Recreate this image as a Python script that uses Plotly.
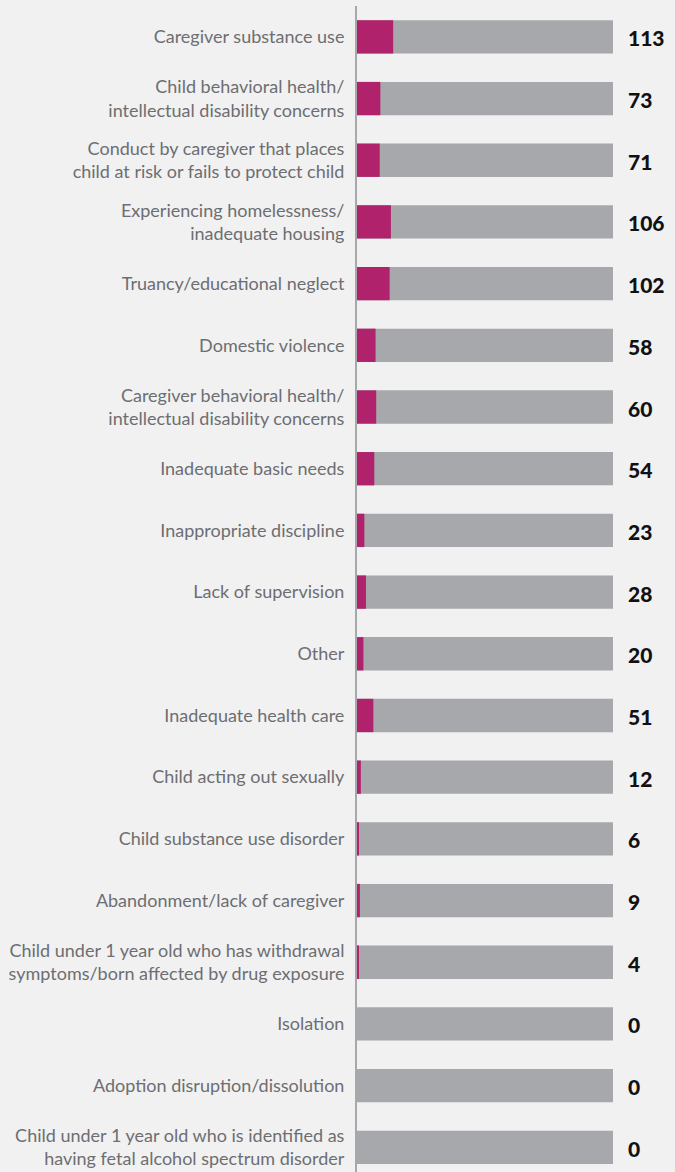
import plotly.graph_objects as go

# Reasons for removal (top to bottom as shown)
categories = [
    "Caregiver substance use",
    "Child behavioral health/<br>intellectual disability concerns",
    "Conduct by caregiver that places<br>child at risk or fails to protect child",
    "Experiencing homelessness/<br>inadequate housing",
    "Truancy/educational neglect",
    "Domestic violence",
    "Caregiver behavioral health/<br>intellectual disability concerns",
    "Inadequate basic needs",
    "Inappropriate discipline",
    "Lack of supervision",
    "Other",
    "Inadequate health care",
    "Child acting out sexually",
    "Child substance use disorder",
    "Abandonment/lack of caregiver",
    "Child under 1 year old who has withdrawal<br>symptoms/born affected by drug exposure",
    "Isolation",
    "Adoption disruption/dissolution",
    "Child under 1 year old who is identified as<br>having fetal alcohol spectrum disorder",
]
counts = [113, 73, 71, 106, 102, 58, 60, 54, 23, 28, 20, 51, 12, 6, 9, 4, 0, 0, 0]
total = 800  # full length of the grey bar

magenta = "#b0226b"
grey = "#a7a8ab"
bg = "#f1f1f1"
label_color = "#6d6e71"

fig = go.Figure()

# Grey background bar (total)
fig.add_trace(go.Bar(
    y=categories, x=[total] * len(categories), orientation="h",
    marker=dict(color=grey, line=dict(width=0)), width=0.54,
    hoverinfo="skip", showlegend=False,
))
# Magenta share
fig.add_trace(go.Bar(
    y=categories, x=counts, orientation="h",
    marker=dict(color=magenta, line=dict(width=0)), width=0.54,
    showlegend=False,
))

# Counts to the right of each bar
for cat, val in zip(categories, counts):
    fig.add_annotation(
        x=total, y=cat, text=str(val), showarrow=False,
        xanchor="left", xshift=13, yshift=-1,
        font=dict(family="Lato, Roboto, sans-serif", size=21, color="#111111", weight=900),
    )

fig.update_layout(
    barmode="overlay",
    width=675, height=1172,
    margin=dict(l=357, r=62, t=6, b=0),
    paper_bgcolor=bg, plot_bgcolor=bg,
    xaxis=dict(range=[0, total], visible=False, fixedrange=True),
    yaxis=dict(
        automargin=False,
        showgrid=False, zeroline=False,
        showline=True, linecolor=grey, linewidth=2,
        ticks="", ticklabelstandoff=7,
        tickfont=dict(family="Lato, Roboto, sans-serif", size=18, color=label_color),
        range=[18.4, -0.5],
    ),
)

# drop the default page margin so the figure sits at the window's corner
fig.write_html("out.html", config={"displayModeBar": False},
               post_script="document.body.style.margin='0';")
